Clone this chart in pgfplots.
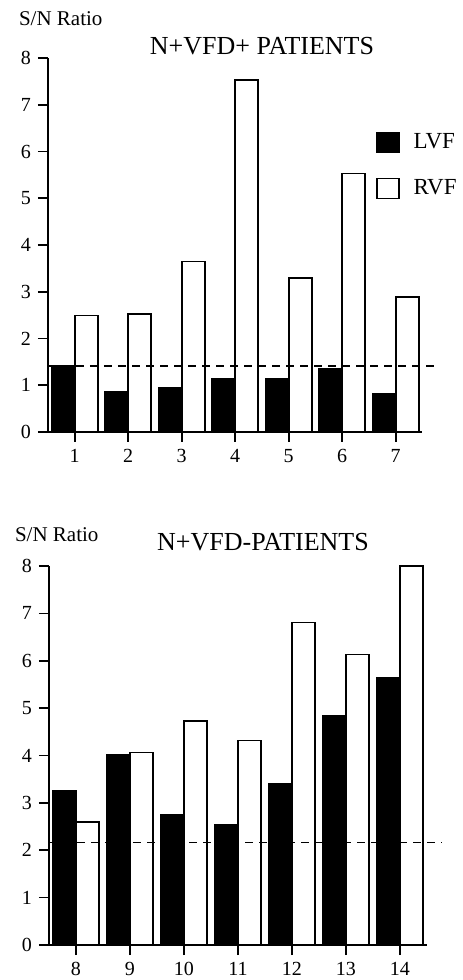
\documentclass[border=0pt]{standalone}
\usepackage{fontspec}
\setmainfont{Liberation Serif}
\usepackage{pgfplots}
\pgfplotsset{compat=1.18}
\begin{document}
\begin{tikzpicture}
\useasboundingbox (0,0) rectangle (231pt,490pt);
\pgfplotsset{
 myax/.style={
  scale only axis, anchor=south west,
  axis x line*=bottom, axis y line*=left,
  axis line style={-, line width=0.8pt},
  tick align=outside, major tick length=5pt,
  tick style={line width=0.8pt, black},
  ymin=0, ymax=8, ytick={0,...,8},
  tick label style={font=\fontsize{10}{12}\selectfont},
  /pgf/number format/assume math mode=true,
  clip=false,
 },
 lvf/.style={ybar, bar width=0.43, bar shift=-0.215, fill=black, draw=black, line width=0.8pt},
 rvf/.style={ybar, bar width=0.43, bar shift=0.215, fill=white, draw=black, line width=0.8pt},
 sq/.style={legend image code/.code={\draw[##1, line width=0.8pt] (0pt,-5pt) rectangle (11pt,5pt);}},
 thr/.style={black, line width=0.7pt, dash pattern=on 4pt off 3pt},
}
% top panel
\begin{axis}[myax, at={(24pt,274pt)}, width=187.25pt, height=187pt,
  xmin=0.5, xmax=7.5, xtick={1,...,7},
  legend style={at={(0.875,0.81)}, anchor=north west, draw=none, fill=none,
    font=\fontsize{11.5}{13}\selectfont, row sep=10pt, inner sep=0pt,
    /tikz/every odd column/.style={column sep=5pt}},
  legend cell align=left]
\addplot[lvf, sq] coordinates {(1,1.42) (2,0.86) (3,0.95) (4,1.14) (5,1.14) (6,1.36) (7,0.82)};
\addlegendentry{LVF}
\addplot[rvf, sq] coordinates {(1,2.49) (2,2.53) (3,3.65) (4,7.53) (5,3.29) (6,5.53) (7,2.89)};
\addlegendentry{RVF}
\addplot[thr, forget plot] coordinates {(0.5,1.41) (7.78,1.41)};
\end{axis}
% bottom panel
\begin{axis}[myax, at={(24.5pt,17.5pt)}, width=189pt, height=189.5pt,
  xmin=7.5, xmax=14.5, xtick={8,...,14}]
\addplot[lvf] coordinates {(8,3.25) (9,4.01) (10,2.74) (11,2.53) (12,3.41) (13,4.83) (14,5.63)};
\addplot[rvf] coordinates {(8,2.60) (9,4.06) (10,4.73) (11,4.32) (12,6.81) (13,6.13) (14,8.0)};
\addplot[thr] coordinates {(7.5,2.16) (14.76,2.16)};
\end{axis}
\node[anchor=west, font=\fontsize{10.5}{12}\selectfont] at (6pt,480.5pt) {S/N Ratio};
\node[font=\fontsize{13}{15}\selectfont] at (131pt,467pt) {N+VFD+ PATIENTS};
\node[anchor=west, font=\fontsize{10.5}{12}\selectfont] at (4pt,222.5pt) {S/N Ratio};
\node[font=\fontsize{13}{15}\selectfont] at (131.5pt,219pt) {N+VFD-PATIENTS};
\end{tikzpicture}
\end{document}
